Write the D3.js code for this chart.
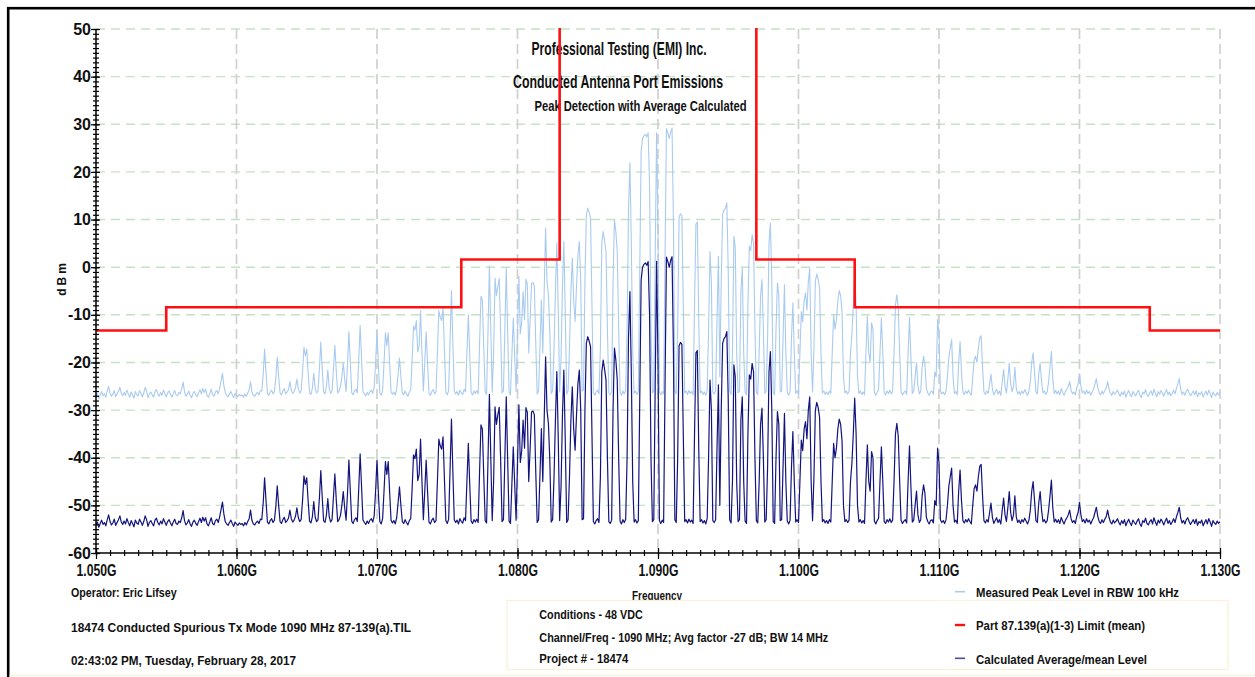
<!DOCTYPE html>
<html><head><meta charset="utf-8">
<script src="https://cdn.jsdelivr.net/npm/d3@7"></script>
<style>
html,body{margin:0;padding:0;background:#fff;}
svg{display:block;}
text{font-family:"Liberation Sans Narrow","Arial Narrow","Liberation Sans",Arial,sans-serif;font-weight:bold;fill:#111;}
.tick text{font-size:16px;}
</style></head><body>
<svg id="chart" width="1255" height="677"></svg>
<script>
// ---- sweep definition (instrument) ----
const sweepStartMHz = 1050, sweepStopMHz = 1130, sweepPoints = 801;

// ---- Measured Peak Level in RBW 100 kHz (dBm), one value per sweep point ----
const peakLevel = [
-27.2,-26.5,-27.6,-26.8,-26.1,-27.0,-26.6,-27.3,-26.0,-25.0,
-26.4,-27.1,-26.7,-25.9,-27.2,-26.6,-26.0,-25.2,-26.5,-27.0,
-26.3,-26.9,-25.8,-26.6,-27.3,-26.2,-26.8,-27.5,-26.1,-26.7,
-27.0,-25.9,-26.5,-27.2,-26.4,-25.2,-26.0,-27.4,-26.6,-26.2,
-26.8,-27.3,-26.1,-25.7,-26.6,-27.1,-26.3,-26.9,-25.8,-26.5,
-27.2,-26.4,-26.0,-26.7,-27.3,-26.5,-25.9,-26.8,-27.0,-26.3,
-26.6,-25.6,-24.1,-26.2,-27.1,-26.7,-26.0,-26.9,-27.4,-26.5,
-26.1,-26.8,-27.2,-26.4,-25.7,-26.6,-25.5,-26.3,-25.6,-26.9,
-27.3,-26.5,-25.6,-26.8,-27.1,-26.2,-25.9,-26.6,-25.4,-23.9,
-22.3,-24.8,-26.4,-26.9,-27.2,-26.6,-26.1,-26.8,-27.4,-26.5,
-26.9,-27.2,-26.7,-27.0,-26.8,-27.3,-26.6,-27.1,-26.4,-25.8,
-24.0,-26.2,-26.9,-27.1,-26.6,-26.3,-26.8,-25.9,-26.0,-22.5,
-17.2,-22.0,-26.5,-26.9,-26.2,-25.8,-26.6,-26.1,-23.2,-18.9,
-23.0,-26.4,-26.8,-26.0,-25.5,-26.6,-26.2,-25.7,-24.0,-25.8,
-26.5,-26.1,-25.3,-23.5,-25.6,-26.4,-26.0,-22.0,-16.8,-18.6,
-17.2,-22.2,-26.3,-26.7,-25.4,-22.2,-25.5,-26.4,-26.0,-21.5,
-15.7,-21.2,-26.2,-26.6,-25.0,-21.6,-25.4,-26.5,-26.0,-21.3,
-16.4,-21.8,-26.4,-26.0,-25.1,-23.0,-20.1,-23.5,-26.1,-20.5,
-13.5,-20.0,-26.3,-26.8,-26.0,-25.6,-26.4,-19.5,-12.2,-19.0,
-26.0,-26.6,-27.0,-26.3,-26.8,-26.1,-25.8,-26.5,-25.2,-20.0,
-13.5,-20.5,-26.4,-26.9,-25.8,-20.0,-13.8,-16.5,-13.8,-20.2,
-26.1,-26.7,-26.2,-26.9,-25.6,-22.5,-19.1,-23.0,-26.4,-26.8,
-26.0,-26.6,-27.1,-26.2,-25.8,-19.5,-12.4,-13.2,-11.2,-17.8,
-16.5,-9.1,-18.0,-26.0,-20.0,-13.5,-20.2,-26.5,-26.9,-26.1,
-25.7,-26.6,-26.2,-18.0,-9.1,-10.5,-11.2,-8.6,-17.5,-26.2,
-26.8,-25.9,-15.5,-4.9,-16.0,-26.0,-26.6,-26.1,-26.9,-25.8,
-26.4,-26.7,-25.6,-26.2,-18.0,-10.0,-18.5,-26.3,-26.8,-26.0,
-26.5,-25.9,-26.6,-16.0,-6.1,-7.0,-17.0,-26.2,-26.7,-13.5,
0.3,-13.0,-26.2,-18.0,-2.3,-6.0,-4.0,-2.4,-13.5,-26.4,
-26.0,-13.0,-0.2,-13.5,-26.3,-26.8,-18.5,-10.7,-18.6,-26.1,
-14.0,-1.9,-14.0,-11.5,-5.1,-11.0,-2.5,-3.5,-18.0,-11.0,
-3.4,-3.2,-4.0,-16.0,-26.6,-26.0,-16.5,-6.9,-18.0,-5.0,
8.2,-3.0,-5.8,-13.5,-26.5,-26.0,-17.0,-5.0,5.1,-9.0,
-26.2,-19.0,-4.0,5.4,-9.5,-26.6,-26.0,-17.0,-5.1,1.9,
-7.0,-11.4,-4.0,2.5,5.4,-3.0,-26.0,-25.8,-3.0,11.0,
12.4,11.5,10.3,-8.0,-26.4,-26.9,-26.2,-25.8,-26.6,-17.0,
5.0,7.5,5.5,3.3,-13.0,-26.4,-26.8,-26.1,-3.0,10.0,
7.5,3.3,-13.0,-26.3,-26.9,-26.0,-26.6,-25.9,-13.0,12.0,
21.9,5.0,-18.0,-26.5,-26.0,-26.7,-26.2,-1.0,24.3,27.0,
27.6,27.9,27.4,28.2,17.0,-13.0,-26.4,-26.0,2.0,28.2,
7.0,-26.2,-26.8,-26.1,-26.6,2.0,29.1,28.2,27.0,28.4,
29.2,9.0,-26.0,-26.6,-13.0,10.5,11.2,10.8,-8.0,-26.4,
-26.0,-26.7,-25.9,-26.5,-26.1,-26.8,-8.0,9.0,9.5,-11.0,
-26.4,-26.0,-26.7,-26.2,-26.9,-25.8,-13.0,3.3,-3.0,-26.2,
-26.6,-26.0,-11.0,2.3,-23.0,-3.0,11.0,12.0,12.4,13.5,
-1.0,-26.0,-26.7,-18.0,6.5,4.0,-18.0,-26.4,-26.0,-5.0,
-0.2,-18.0,-26.3,-26.8,-8.0,4.4,3.5,6.8,5.0,-13.0,
-26.2,-26.7,-18.0,-6.0,-2.6,-13.0,-26.5,-26.0,-15.0,5.0,
9.3,-3.0,-26.4,-26.8,-13.0,-3.3,-6.0,-26.2,-26.0,-15.0,
-3.7,-18.0,-26.3,-26.9,-26.1,-15.0,-7.5,-18.0,-26.5,-26.0,
-26.6,-18.0,-9.3,-11.5,-7.0,-5.4,-9.0,-3.0,-0.2,-18.0,
-26.2,-17.0,-3.0,-1.4,-2.5,-4.5,-18.0,-26.4,-26.0,-26.7,
-26.2,-26.8,-26.0,-26.5,-18.0,-10.0,-13.0,-11.0,-7.0,-4.9,
-6.0,-9.5,-23.0,-26.4,-26.0,-26.6,-26.1,-18.0,-14.2,-8.0,
-0.5,-8.0,-23.0,-26.5,-26.0,-26.7,-26.2,-26.8,-18.0,-10.3,
-18.0,-20.0,-11.7,-13.0,-26.3,-26.9,-26.2,-25.7,-18.0,-10.7,
-18.0,-26.4,-26.8,-26.0,-26.5,-25.8,-26.6,-26.1,-18.0,-8.0,
-5.8,-8.5,-18.0,-26.2,-26.8,-26.3,-26.0,-26.7,-18.0,-10.5,
-19.0,-26.5,-26.1,-23.0,-20.0,-25.0,-26.6,-26.0,-21.0,-18.7,
-20.5,-25.5,-26.4,-26.9,-26.2,-26.0,-26.7,-22.0,-23.0,-11.0,
-14.0,-26.0,-26.6,-26.2,-26.8,-26.0,-23.0,-19.0,-17.0,-15.2,
-23.0,-26.5,-26.1,-26.8,-20.0,-15.6,-22.0,-26.2,-26.7,-26.0,
-26.5,-25.8,-26.4,-26.9,-23.0,-19.5,-18.7,-20.0,-17.0,-14.8,
-14.4,-21.0,-26.2,-26.7,-26.0,-26.5,-24.5,-22.5,-25.5,-26.8,
-26.2,-25.6,-26.6,-26.0,-26.9,-24.0,-21.5,-25.0,-26.4,-23.5,
-20.1,-24.5,-26.2,-25.0,-21.0,-25.4,-26.6,-26.1,-26.8,-26.0,
-26.5,-25.7,-26.3,-26.9,-26.1,-24.0,-20.0,-18.0,-22.0,-26.2,
-26.6,-22.5,-20.1,-24.0,-26.4,-26.0,-26.7,-26.2,-24.0,-21.0,
-17.7,-23.5,-26.5,-25.9,-26.6,-26.0,-26.8,-25.5,-26.3,-26.9,
-26.1,-25.6,-25.0,-24.0,-25.8,-26.6,-26.2,-26.8,-25.4,-24.5,
-22.4,-25.0,-26.4,-26.0,-26.7,-25.8,-26.5,-26.1,-26.9,-26.2,
-25.6,-24.5,-23.4,-25.3,-26.4,-26.8,-26.0,-26.6,-25.9,-25.4,
-24.0,-25.5,-26.5,-26.9,-26.1,-26.7,-26.3,-25.8,-26.6,-27.1,
-26.2,-26.8,-26.0,-27.3,-26.5,-25.9,-26.7,-27.2,-26.1,-26.6,
-27.0,-26.3,-25.8,-26.9,-27.4,-26.2,-26.6,-25.7,-26.8,-27.1,
-26.4,-26.0,-26.9,-25.6,-26.5,-27.2,-26.1,-26.7,-25.9,-26.4,
-27.1,-26.3,-25.7,-26.8,-26.2,-27.0,-26.5,-25.8,-26.6,-25.4,
-24.5,-23.4,-25.6,-26.7,-26.2,-26.9,-26.0,-25.6,-26.4,-27.0,
-26.5,-26.0,-26.8,-25.9,-27.2,-26.4,-26.7,-26.1,-27.3,-26.6,
-26.0,-26.9,-25.8,-26.5,-27.4,-26.2,-26.7,-27.0,-26.3,-26.8,
-26.4
];

// ---- Calculated Average/mean Level (dBm), one value per sweep point ----
const avgLevel = [
-54.2,-53.5,-54.6,-53.8,-53.1,-54.0,-53.6,-54.3,-53.0,-52.0,
-53.4,-54.1,-53.7,-52.9,-54.2,-53.6,-53.0,-52.2,-53.5,-54.0,
-53.3,-53.9,-52.8,-53.6,-54.3,-53.2,-53.8,-54.5,-53.1,-53.7,
-54.0,-52.9,-53.5,-54.2,-53.4,-52.2,-53.0,-54.4,-53.6,-53.2,
-53.8,-54.3,-53.1,-52.7,-53.6,-54.1,-53.3,-53.9,-52.8,-53.5,
-54.2,-53.4,-53.0,-53.7,-54.3,-53.5,-52.9,-53.8,-54.0,-53.3,
-53.6,-52.6,-51.1,-53.2,-54.1,-53.7,-53.0,-53.9,-54.4,-53.5,
-53.1,-53.8,-54.2,-53.4,-52.7,-53.6,-52.5,-53.3,-52.6,-53.9,
-54.3,-53.5,-52.6,-53.8,-54.1,-53.2,-52.9,-53.6,-52.4,-50.9,
-49.3,-51.8,-53.4,-53.9,-54.2,-53.6,-53.1,-53.8,-54.4,-53.5,
-53.9,-54.2,-53.7,-54.0,-53.8,-54.3,-53.6,-54.1,-53.4,-52.8,
-51.0,-53.2,-53.9,-54.1,-53.6,-53.3,-53.8,-52.9,-53.0,-49.5,
-44.2,-49.0,-53.5,-53.9,-53.2,-52.8,-53.6,-53.1,-50.2,-45.9,
-50.0,-53.4,-53.8,-53.0,-52.5,-53.6,-53.2,-52.7,-51.0,-52.8,
-53.5,-53.1,-52.3,-50.5,-52.6,-53.4,-53.0,-49.0,-43.8,-45.6,
-44.2,-49.2,-53.3,-53.7,-52.4,-49.2,-52.5,-53.4,-53.0,-48.5,
-42.7,-48.2,-53.2,-53.6,-52.0,-48.6,-52.4,-53.5,-53.0,-48.3,
-43.4,-48.8,-53.4,-53.0,-52.1,-50.0,-47.1,-50.5,-53.1,-47.5,
-40.5,-47.0,-53.3,-53.8,-53.0,-52.6,-53.4,-46.5,-39.2,-46.0,
-53.0,-53.6,-54.0,-53.3,-53.8,-53.1,-52.8,-53.5,-52.2,-47.0,
-40.5,-47.5,-53.4,-53.9,-52.8,-47.0,-40.8,-43.5,-40.8,-47.2,
-53.1,-53.7,-53.2,-53.9,-52.6,-49.5,-46.1,-50.0,-53.4,-53.8,
-53.0,-53.6,-54.1,-53.2,-52.8,-46.5,-39.4,-40.2,-38.2,-44.8,
-43.5,-36.1,-45.0,-53.0,-47.0,-40.5,-47.2,-53.5,-53.9,-53.1,
-52.7,-53.6,-53.2,-45.0,-36.1,-37.5,-38.2,-35.6,-44.5,-53.2,
-53.8,-52.9,-42.5,-31.9,-43.0,-53.0,-53.6,-53.1,-53.9,-52.8,
-53.4,-53.7,-52.6,-53.2,-45.0,-37.0,-45.5,-53.3,-53.8,-53.0,
-53.5,-52.9,-53.6,-43.0,-33.1,-34.0,-44.0,-53.2,-53.7,-40.5,
-26.7,-40.0,-53.2,-45.0,-29.3,-33.0,-31.0,-29.4,-40.5,-53.4,
-53.0,-40.0,-27.2,-40.5,-53.3,-53.8,-45.5,-37.7,-45.6,-53.1,
-41.0,-28.9,-41.0,-38.5,-32.1,-38.0,-29.5,-30.5,-45.0,-38.0,
-30.4,-30.2,-31.0,-43.0,-53.6,-53.0,-43.5,-33.9,-45.0,-32.0,
-18.8,-30.0,-32.8,-40.5,-53.5,-53.0,-44.0,-32.0,-21.9,-36.0,
-53.2,-46.0,-31.0,-21.6,-36.5,-53.6,-53.0,-44.0,-32.1,-25.1,
-34.0,-38.4,-31.0,-24.5,-21.6,-30.0,-53.0,-52.8,-30.0,-16.0,
-14.6,-15.5,-16.7,-35.0,-53.4,-53.9,-53.2,-52.8,-53.6,-44.0,
-22.0,-19.5,-21.5,-23.7,-40.0,-53.4,-53.8,-53.1,-30.0,-17.0,
-19.5,-23.7,-40.0,-53.3,-53.9,-53.0,-53.6,-52.9,-40.0,-15.0,
-5.1,-22.0,-45.0,-53.5,-53.0,-53.7,-53.2,-28.0,-2.7,0.0,
0.6,0.9,0.4,1.2,-10.0,-40.0,-53.4,-53.0,-25.0,1.2,
-20.0,-53.2,-53.8,-53.1,-53.6,-25.0,2.1,1.2,0.0,1.4,
2.2,-18.0,-53.0,-53.6,-40.0,-16.5,-15.8,-16.2,-35.0,-53.4,
-53.0,-53.7,-52.9,-53.5,-53.1,-53.8,-35.0,-18.0,-17.5,-38.0,
-53.4,-53.0,-53.7,-53.2,-53.9,-52.8,-40.0,-23.7,-30.0,-53.2,
-53.6,-53.0,-38.0,-24.7,-50.0,-30.0,-16.0,-15.0,-14.6,-13.5,
-28.0,-53.0,-53.7,-45.0,-20.5,-23.0,-45.0,-53.4,-53.0,-32.0,
-27.2,-45.0,-53.3,-53.8,-35.0,-22.6,-23.5,-20.2,-22.0,-40.0,
-53.2,-53.7,-45.0,-33.0,-29.6,-40.0,-53.5,-53.0,-42.0,-22.0,
-17.7,-30.0,-53.4,-53.8,-40.0,-30.3,-33.0,-53.2,-53.0,-42.0,
-30.7,-45.0,-53.3,-53.9,-53.1,-42.0,-34.5,-45.0,-53.5,-53.0,
-53.6,-45.0,-36.3,-38.5,-34.0,-32.4,-36.0,-30.0,-27.2,-45.0,
-53.2,-44.0,-30.0,-28.4,-29.5,-31.5,-45.0,-53.4,-53.0,-53.7,
-53.2,-53.8,-53.0,-53.5,-45.0,-37.0,-40.0,-38.0,-34.0,-31.9,
-33.0,-36.5,-50.0,-53.4,-53.0,-53.6,-53.1,-45.0,-41.2,-35.0,
-27.5,-35.0,-50.0,-53.5,-53.0,-53.7,-53.2,-53.8,-45.0,-37.3,
-45.0,-47.0,-38.7,-40.0,-53.3,-53.9,-53.2,-52.7,-45.0,-37.7,
-45.0,-53.4,-53.8,-53.0,-53.5,-52.8,-53.6,-53.1,-45.0,-35.0,
-32.8,-35.5,-45.0,-53.2,-53.8,-53.3,-53.0,-53.7,-45.0,-37.5,
-46.0,-53.5,-53.1,-50.0,-47.0,-52.0,-53.6,-53.0,-48.0,-45.7,
-47.5,-52.5,-53.4,-53.9,-53.2,-53.0,-53.7,-49.0,-50.0,-38.0,
-41.0,-53.0,-53.6,-53.2,-53.8,-53.0,-50.0,-46.0,-44.0,-42.2,
-50.0,-53.5,-53.1,-53.8,-47.0,-42.6,-49.0,-53.2,-53.7,-53.0,
-53.5,-52.8,-53.4,-53.9,-50.0,-46.5,-45.7,-47.0,-44.0,-41.8,
-41.4,-48.0,-53.2,-53.7,-53.0,-53.5,-51.5,-49.5,-52.5,-53.8,
-53.2,-52.6,-53.6,-53.0,-53.9,-51.0,-48.5,-52.0,-53.4,-50.5,
-47.1,-51.5,-53.2,-52.0,-48.0,-52.4,-53.6,-53.1,-53.8,-53.0,
-53.5,-52.7,-53.3,-53.9,-53.1,-51.0,-47.0,-45.0,-49.0,-53.2,
-53.6,-49.5,-47.1,-51.0,-53.4,-53.0,-53.7,-53.2,-51.0,-48.0,
-44.7,-50.5,-53.5,-52.9,-53.6,-53.0,-53.8,-52.5,-53.3,-53.9,
-53.1,-52.6,-52.0,-51.0,-52.8,-53.6,-53.2,-53.8,-52.4,-51.5,
-49.4,-52.0,-53.4,-53.0,-53.7,-52.8,-53.5,-53.1,-53.9,-53.2,
-52.6,-51.5,-50.4,-52.3,-53.4,-53.8,-53.0,-53.6,-52.9,-52.4,
-51.0,-52.5,-53.5,-53.9,-53.1,-53.7,-53.3,-52.8,-53.6,-54.1,
-53.2,-53.8,-53.0,-54.3,-53.5,-52.9,-53.7,-54.2,-53.1,-53.6,
-54.0,-53.3,-52.8,-53.9,-54.4,-53.2,-53.6,-52.7,-53.8,-54.1,
-53.4,-53.0,-53.9,-52.6,-53.5,-54.2,-53.1,-53.7,-52.9,-53.4,
-54.1,-53.3,-52.7,-53.8,-53.2,-54.0,-53.5,-52.8,-53.6,-52.4,
-51.5,-50.4,-52.6,-53.7,-53.2,-53.9,-53.0,-52.6,-53.4,-54.0,
-53.5,-53.0,-53.8,-52.9,-54.2,-53.4,-53.7,-53.1,-54.3,-53.6,
-53.0,-53.9,-52.8,-53.5,-54.4,-53.2,-53.7,-54.0,-53.3,-53.8,
-53.4
];

// ---- Part 87.139(a)(1-3) limit: band edges (MHz) and level in each band (dBm) ----
const limitEdgesMHz = [1050, 1055, 1076, 1083, 1097, 1104, 1125, 1130];
const limitLevels   = [-13.3, -8.4, 1.6, 70, 1.6, -8.4, -13.3];

// ---- axes ----
const xTickMHz = [1050,1060,1070,1080,1090,1100,1110,1120,1130];
const xTickLabels = ["1.050G","1.060G","1.070G","1.080G","1.090G","1.100G","1.110G","1.120G","1.130G"];
const yTickValues = [-60,-50,-40,-30,-20,-10,0,10,20,30,40,50];
const yTickLabels = ["-60","-50","-40","-30","-20","-10","0","10","20","30","40","50"];

// ---- texts ----
const titleLines = ["Professional Testing (EMI) Inc.", "Conducted Antenna Port Emissions", "Peak Detection with Average Calculated"];
const infoLeft = ["Operator: Eric Lifsey", "18474 Conducted Spurious Tx Mode 1090 MHz 87-139(a).TIL", "02:43:02 PM, Tuesday, February 28, 2017"];
const infoConditions = ["Conditions - 48 VDC", "Channel/Freq - 1090 MHz; Avg factor -27 dB; BW 14 MHz", "Project # - 18474"];
const legendLabels = ["Measured Peak Level in RBW 100 kHz", "Part 87.139(a)(1-3) Limit (mean)", "Calculated Average/mean Level"];
const legendColors = ["#a9cbf0", "#ff1010", "#4c4ca6"];

// ================= drawing =================
const svg = d3.select("#chart");
const L = 96, R = 1220, T = 29, B = 553;
const x = d3.scaleLinear().domain([sweepStartMHz, sweepStopMHz]).range([L, R]);
const y = d3.scaleLinear().domain([-60, 50]).range([B, T]);
const freq = d3.range(sweepPoints).map(i => sweepStartMHz + i * (sweepStopMHz - sweepStartMHz) / (sweepPoints - 1));

svg.append("rect").attr("width",1255).attr("height",677).attr("fill","#fff");

// outer frame
svg.append("rect").attr("x",8.2).attr("y",8.2).attr("width",1300).attr("height",700)
  .attr("fill","none").attr("stroke","#000").attr("stroke-width",2.6);
svg.append("line").attr("x1",9.5).attr("x2",1255).attr("y1",675.5).attr("y2",675.5)
  .attr("stroke","#fbf1d6").attr("stroke-width",1.5);

svg.append("defs").append("clipPath").attr("id","plotClip")
  .append("rect").attr("x",L).attr("y",T-1).attr("width",R-L+1).attr("height",B-T+1);

// grid
svg.append("g").selectAll("line").data(yTickValues.filter(v => v > -60)).join("line")
  .attr("x1",L).attr("x2",R).attr("y1",d=>y(d)).attr("y2",d=>y(d))
  .attr("stroke","#c6e2c4").attr("stroke-width",1.4).attr("stroke-dasharray","9,6");
svg.append("g").selectAll("line").data(xTickMHz.filter(v => v > sweepStartMHz)).join("line")
  .attr("x1",d=>x(d)).attr("x2",d=>x(d)).attr("y1",T).attr("y2",B)
  .attr("stroke","#d0d0d0").attr("stroke-width",1.7).attr("stroke-dasharray","10,5");

// titles
const titlePos = [[619, 55, 175, 18], [618, 88.3, 210, 18], [640.5, 110.7, 212, 14.5]];
svg.append("g").selectAll("text").data(titleLines).join("text")
  .attr("x",(d,i)=>titlePos[i][0]).attr("y",(d,i)=>titlePos[i][1])
  .attr("text-anchor","middle").style("font-size",(d,i)=>titlePos[i][3]+"px")
  .attr("textLength",(d,i)=>titlePos[i][2]).attr("lengthAdjust","spacingAndGlyphs")
  .text(d=>d);

// traces
const plot = svg.append("g").attr("clip-path","url(#plotClip)");
const line = d3.line().x((d,i)=>x(freq[i])).y(d=>y(d));
plot.append("path").datum(peakLevel).attr("d",line)
  .attr("fill","none").attr("stroke","#a9cbf0").attr("stroke-width",1.1).attr("stroke-linejoin","round");
plot.append("path").datum(avgLevel).attr("d",line)
  .attr("fill","none").attr("stroke","#14147e").attr("stroke-width",1.2).attr("stroke-linejoin","round");

// limit
const limitPts = [];
limitLevels.forEach((v,k) => { limitPts.push([limitEdgesMHz[k], v]); limitPts.push([limitEdgesMHz[k+1], v]); });
plot.append("path").datum(limitPts)
  .attr("d", d3.line().x(d=>x(d[0])).y(d=>y(d[1])))
  .attr("fill","none").attr("stroke","#ff1010").attr("stroke-width",2.6);

// y axis
svg.append("line").attr("x1",L).attr("x2",L).attr("y1",T).attr("y2",B).attr("stroke","#000").attr("stroke-width",1.5);
const gYMinor = svg.append("g").attr("transform",`translate(${L+3},0)`)
  .call(d3.axisLeft(y).tickValues(d3.range(-60,51,1)).tickSize(6).tickFormat(""));
gYMinor.select(".domain").remove();
const gYMajor = svg.append("g").attr("transform",`translate(${L+4},0)`)
  .call(d3.axisLeft(y).tickValues(yTickValues).tickSize(9).tickPadding(0).tickFormat((d,i)=>yTickLabels[i]));
gYMajor.select(".domain").remove();

// x axis
svg.append("line").attr("x1",L).attr("x2",R).attr("y1",B).attr("y2",B).attr("stroke","#000").attr("stroke-width",1.5);
const gXMinor = svg.append("g").attr("transform",`translate(0,${B-3})`)
  .call(d3.axisBottom(x).tickValues(d3.range(1050,1131,1)).tickSize(6).tickFormat(""));
gXMinor.select(".domain").remove();
const gXMajor = svg.append("g").attr("transform",`translate(0,${B-5})`)
  .call(d3.axisBottom(x).tickValues(xTickMHz).tickSize(11).tickPadding(6).tickFormat((d,i)=>xTickLabels[i]));
gXMajor.select(".domain").remove();
gXMajor.selectAll("text").attr("textLength",40).attr("lengthAdjust","spacingAndGlyphs");
[gYMinor,gYMajor,gXMinor,gXMajor].forEach(g => g.attr("color","#000").selectAll("line").attr("stroke-width",1.2));

// axis titles
svg.append("text").attr("x",0).attr("y",0)
  .attr("transform","translate(66,278) rotate(-90)").attr("text-anchor","middle")
  .style("font-size","12px").style("letter-spacing","3px").text("dBm");
svg.append("text").attr("x",657).attr("y",599.5).attr("text-anchor","middle")
  .style("font-size","13px").attr("textLength",50).attr("lengthAdjust","spacingAndGlyphs").text("Frequency");

// left info
const leftPos = [[596.7,105.7],[631.7,340],[665,225]];
svg.append("g").selectAll("text").data(infoLeft).join("text")
  .attr("x",71).attr("y",(d,i)=>leftPos[i][0]).style("font-size","13px")
  .attr("textLength",(d,i)=>leftPos[i][1]).attr("lengthAdjust","spacingAndGlyphs").text(d=>d);

// conditions box
svg.append("rect").attr("x",507).attr("y",600.5).attr("width",721).attr("height",69)
  .attr("fill","#fff").attr("stroke","#fbf1d6").attr("stroke-width",1.2);
const condPos = [[619.3,103.4],[641.7,289],[663.3,89]];
svg.append("g").selectAll("text").data(infoConditions).join("text")
  .attr("x",539.3).attr("y",(d,i)=>condPos[i][0]).style("font-size","13px")
  .attr("textLength",(d,i)=>condPos[i][1]).attr("lengthAdjust","spacingAndGlyphs").text(d=>d);

// legend
svg.append("rect").attr("x",940).attr("y",576).attr("width",256).attr("height",24.2).attr("fill","#fff");
const legY = [591.7, 625, 658.3];
const legTextY = [596.7, 629.8, 664];
const legW = [203, 169, 171];
const leg = svg.append("g");
leg.selectAll("line").data(legendLabels).join("line")
  .attr("x1",955).attr("x2",965).attr("y1",(d,i)=>legY[i]).attr("y2",(d,i)=>legY[i])
  .attr("stroke",(d,i)=>legendColors[i]).attr("stroke-width",(d,i)=>i===1?2.4:1.6);
leg.selectAll("text").data(legendLabels).join("text")
  .attr("x",976).attr("y",(d,i)=>legTextY[i]).style("font-size","13px")
  .attr("textLength",(d,i)=>legW[i]).attr("lengthAdjust","spacingAndGlyphs").text(d=>d);
</script>
</body></html>
